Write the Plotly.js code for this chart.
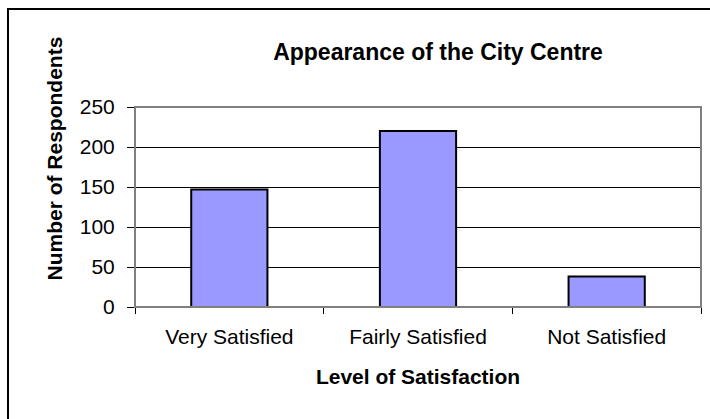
<!DOCTYPE html>
<html>
<head>
<meta charset="utf-8">
<script src="https://cdn.plot.ly/plotly-3.0.1.min.js"></script>
<style>html,body{margin:0;padding:0;background:#fff;}#chart{width:710px;height:419px;}</style>
</head>
<body>
<div id="chart"></div>
<script>
const categories = ["Very Satisfied", "Fairly Satisfied", "Not Satisfied"];
const respondents = [147, 220, 38];
const yTicks = [0, 50, 100, 150, 200, 250];

const FONT = "Arial, 'Liberation Sans', sans-serif";

const trace = {
  type: "bar",
  x: categories,
  y: respondents,
  marker: { color: "#9999FF", line: { color: "#000000", width: 2 } },
  hoverinfo: "x+y"
};

const layout = {
  width: 710, height: 419,
  margin: { l: 135, r: 9, t: 107, b: 112, pad: 0 },
  paper_bgcolor: "#ffffff", plot_bgcolor: "#ffffff",
  font: { family: FONT, size: 21, color: "#000000" },
  showlegend: false,
  bargap: 0.596,
  title: {
    text: "<b>Appearance of the City Centre</b>",
    font: { family: FONT, size: 23, color: "#000000" },
    xref: "container", x: 438 / 710, xanchor: "center",
    yref: "container", y: 1 - 52 / 419, yanchor: "middle"
  },
  xaxis: {
    type: "category",
    tickson: "boundaries",
    ticks: "outside", ticklen: 6, tickwidth: 1, tickcolor: "#000000",
    ticklabelstandoff: 11,
    showline: true, linecolor: "#000000", linewidth: 1,
    showgrid: false, zeroline: false,
    tickfont: { family: FONT, size: 21, color: "#000000" },
    title: { text: "<b>Level of Satisfaction</b>", font: { family: FONT, size: 21, color: "#000000" }, standoff: 22 },
    automargin: false
  },
  yaxis: {
    range: [0, 250],
    tickvals: yTicks,
    ticktext: yTicks.map(String),
    ticks: "outside", ticklen: 7, tickwidth: 1, tickcolor: "#000000",
    ticklabelstandoff: 8,
    showline: true, linecolor: "#808080", linewidth: 1,
    showgrid: true, gridcolor: "#000000", gridwidth: 1,
    zeroline: false,
    tickfont: { family: FONT, size: 21, color: "#000000" },
    automargin: false
  },
  shapes: [
    { type: "rect", xref: "paper", yref: "paper", x0: 0, x1: 1, y0: 0, y1: 1,
      line: { color: "#808080", width: 2 }, fillcolor: "rgba(0,0,0,0)", layer: "above" },
    { type: "rect", xref: "paper", yref: "paper",
      x0: (8 - 135) / 566, x1: (730 - 135) / 566, y0: (307 - 440) / 200, y1: (307 - 9) / 200,
      line: { color: "#000000", width: 2 }, fillcolor: "rgba(0,0,0,0)", layer: "below" }
  ],
  annotations: [
    { text: "<b>Number of Respondents</b>", textangle: -90, showarrow: false,
      xref: "paper", yref: "paper", x: (54 - 135) / 566, y: (307 - 158.5) / 200,
      xanchor: "center", yanchor: "middle",
      font: { family: FONT, size: 21, color: "#000000" } }
  ]
};

Plotly.newPlot("chart", [trace], layout, { staticPlot: true, displayModeBar: false });
</script>
</body>
</html>
